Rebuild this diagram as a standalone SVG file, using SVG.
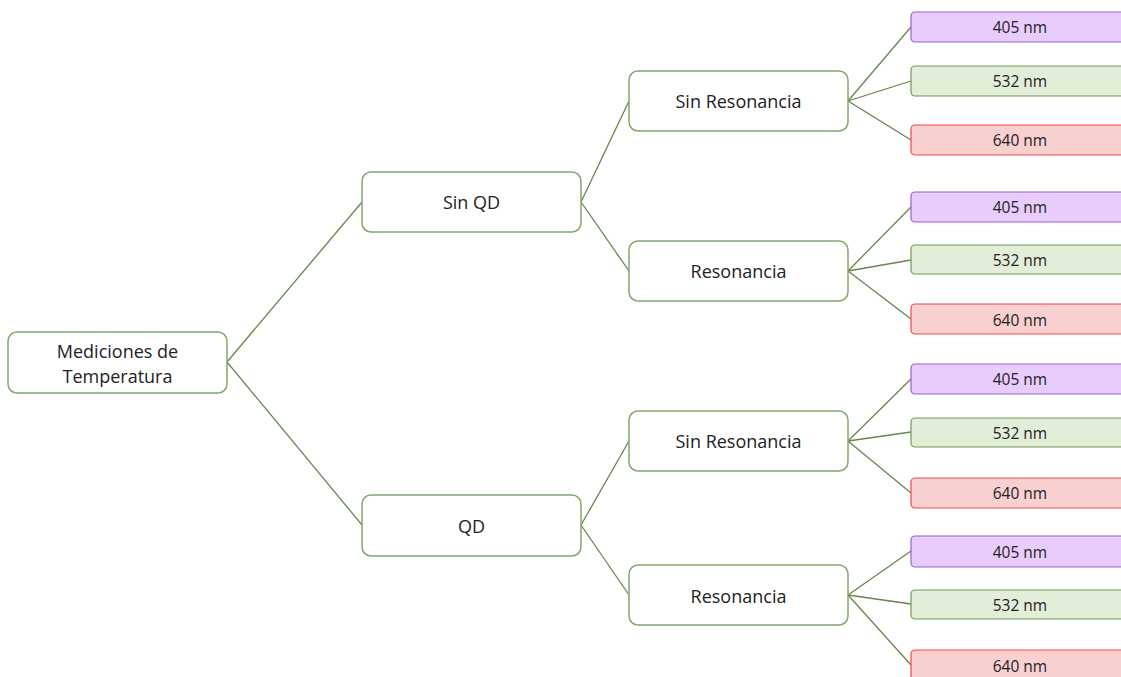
<svg xmlns="http://www.w3.org/2000/svg" width="1121" height="677" viewBox="0 0 1121 677">
<style>
.n{fill:#fff;stroke:#82a86a;stroke-width:1.5}
.p{fill:#e8ccfb;stroke:#9a60c8;stroke-width:1.2}
.g{fill:#e2eed8;stroke:#6f9a55;stroke-width:1.2}
.r{fill:#f9d0d0;stroke:#f04848;stroke-width:1.2}
.t{font-family:"Open Sans","Liberation Sans",sans-serif;font-size:18px;fill:#222;text-anchor:middle;dominant-baseline:central}
.s{font-family:"Open Sans","Liberation Sans",sans-serif;font-size:15.5px;fill:#222;text-anchor:middle;dominant-baseline:central}
.c line{stroke:#66864f;stroke-width:1.3}
</style>
<rect width="1121" height="677" fill="#fff"/>
<g class="c" id="connectors">
<line x1="227" y1="362" x2="362" y2="202"/>
<line x1="227" y1="362" x2="362" y2="525"/>
<line x1="581" y1="202" x2="629" y2="101"/>
<line x1="581" y1="202" x2="629" y2="271"/>
<line x1="581" y1="525" x2="629" y2="441"/>
<line x1="581" y1="525" x2="629" y2="595"/>
<line x1="848" y1="101" x2="911" y2="27"/>
<line x1="848" y1="101" x2="911" y2="81"/>
<line x1="848" y1="101" x2="911" y2="140"/>
<line x1="848" y1="271" x2="911" y2="207"/>
<line x1="848" y1="271" x2="911" y2="260"/>
<line x1="848" y1="271" x2="911" y2="319"/>
<line x1="848" y1="441" x2="911" y2="379"/>
<line x1="848" y1="441" x2="911" y2="432"/>
<line x1="848" y1="441" x2="911" y2="493"/>
<line x1="848" y1="595" x2="911" y2="551"/>
<line x1="848" y1="595" x2="911" y2="604"/>
<line x1="848" y1="595" x2="911" y2="665"/>
</g>
<g id="root"><rect class="n" x="8" y="332" width="219" height="61" rx="9"/><text class="t" x="117.5" y="351">Mediciones de</text><text class="t" x="117.5" y="376">Temperatura</text></g>
<g id="sinqd"><rect class="n" x="362" y="172" width="219" height="60" rx="9"/><text class="t" x="471.5" y="202">Sin QD</text></g>
<g id="qd"><rect class="n" x="362" y="495" width="219" height="61" rx="9"/><text class="t" x="471.5" y="526">QD</text></g>
<g id="sinres1"><rect class="n" x="629" y="71" width="219" height="60" rx="9"/><text class="t" x="738.5" y="101">Sin Resonancia</text></g>
<g id="res1"><rect class="n" x="629" y="241" width="219" height="60" rx="9"/><text class="t" x="738.5" y="271">Resonancia</text></g>
<g id="sinres2"><rect class="n" x="629" y="411" width="219" height="60" rx="9"/><text class="t" x="738.5" y="441">Sin Resonancia</text></g>
<g id="res2"><rect class="n" x="629" y="565" width="219" height="60" rx="9"/><text class="t" x="738.5" y="596">Resonancia</text></g>
<g id="l1a"><rect class="p" x="911" y="12" width="230" height="30" rx="4"/><text class="s" x="1020" y="27">405 nm</text></g>
<g id="l1b"><rect class="g" x="911" y="66" width="230" height="30" rx="4"/><text class="s" x="1020" y="81">532 nm</text></g>
<g id="l1c"><rect class="r" x="911" y="125" width="230" height="30" rx="4"/><text class="s" x="1020" y="140">640 nm</text></g>
<g id="l2a"><rect class="p" x="911" y="192" width="230" height="30" rx="4"/><text class="s" x="1020" y="207">405 nm</text></g>
<g id="l2b"><rect class="g" x="911" y="245" width="230" height="29" rx="4"/><text class="s" x="1020" y="259.5">532 nm</text></g>
<g id="l2c"><rect class="r" x="911" y="304" width="230" height="30" rx="4"/><text class="s" x="1020" y="320">640 nm</text></g>
<g id="l3a"><rect class="p" x="911" y="364" width="230" height="30" rx="4"/><text class="s" x="1020" y="379">405 nm</text></g>
<g id="l3b"><rect class="g" x="911" y="418" width="230" height="29" rx="4"/><text class="s" x="1020" y="432.5">532 nm</text></g>
<g id="l3c"><rect class="r" x="911" y="478" width="230" height="30" rx="4"/><text class="s" x="1020" y="493">640 nm</text></g>
<g id="l4a"><rect class="p" x="911" y="536" width="230" height="31" rx="4"/><text class="s" x="1020" y="552">405 nm</text></g>
<g id="l4b"><rect class="g" x="911" y="590" width="230" height="29" rx="4"/><text class="s" x="1020" y="604.5">532 nm</text></g>
<g id="l4c"><rect class="r" x="911" y="650" width="230" height="31" rx="4"/><text class="s" x="1020" y="666">640 nm</text></g>
</svg>
